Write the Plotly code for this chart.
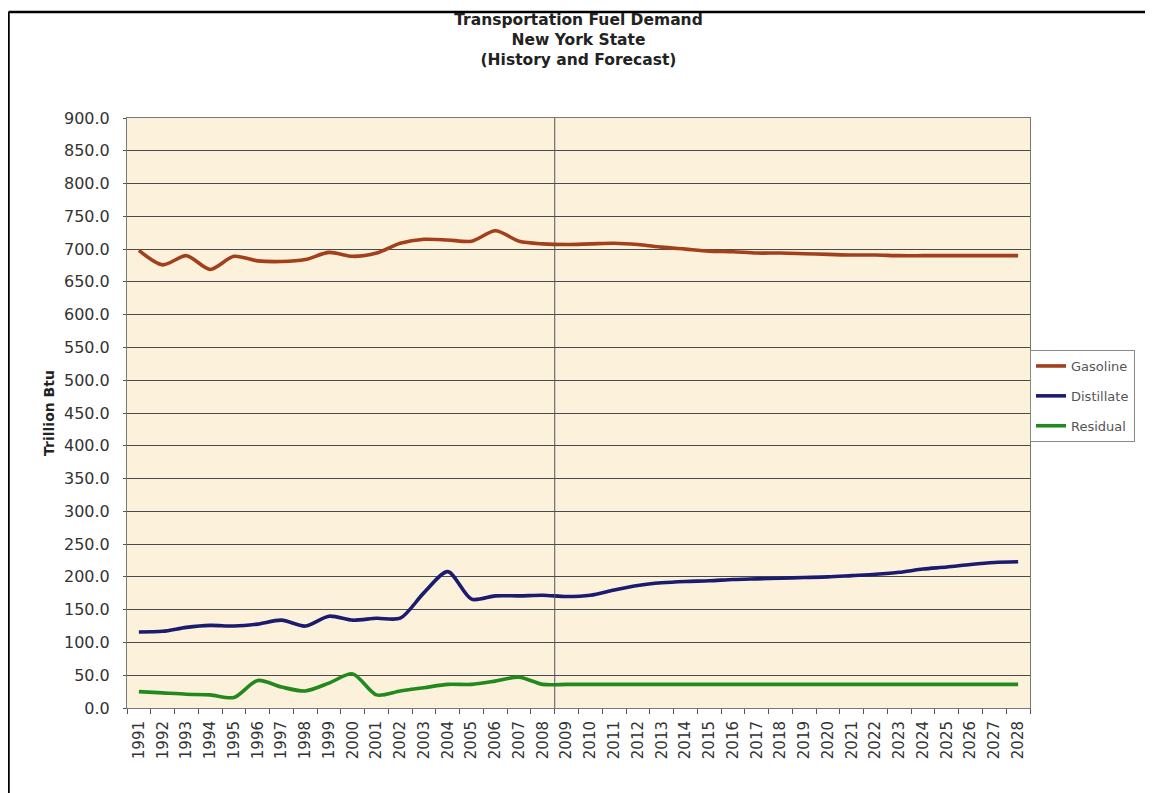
import plotly.graph_objects as go

# ── data ─────────────────────────────────────────────
years = [str(y) for y in range(1991, 2029)]

gasoline = [
    698, 676, 690, 669, 689, 682, 681, 684, 695, 689,
    694, 709, 715, 714, 712, 728, 712, 708, 707, 708,
    709, 707, 703, 700, 697, 696, 694, 694, 693, 692,
    691, 691, 690, 690, 690, 690, 690, 690,
]
distillate = [
    116, 117, 123, 126, 125, 128, 134, 125, 140, 134,
    137, 137, 176, 208, 166, 171, 171, 172, 170, 172,
    180, 187, 191, 193, 194, 196, 197, 198, 199, 200,
    202, 204, 207, 212, 215, 219, 222, 223,
]
residual = [
    25, 23, 21, 20, 16, 42, 32, 26, 38, 52,
    20, 26, 31, 36, 36, 41, 47, 36, 36, 36,
    36, 36, 36, 36, 36, 36, 36, 36, 36, 36,
    36, 36, 36, 36, 36, 36, 36, 36,
]

series = [
    ("Gasoline", gasoline, "#A23F1C"),
    ("Distillate", distillate, "#1B1B6F"),
    ("Residual", residual, "#22891F"),
]

FONT = "DejaVu Sans, Arial, sans-serif"
OFF = 8                              # page body margin
W, H = 1153 - OFF, 793 - OFF
L, R, T, B = 127 - OFF, 1030 - OFF, 118 - OFF, 708 - OFF   # plot area (figure px)

fig = go.Figure()
for name, vals, color in series:
    fig.add_trace(go.Scatter(
        x=years, y=vals, name=name, mode="lines", legendgroup=name,
        line=dict(color=color, width=3.6, shape="spline", smoothing=0.8),
    ))

# forecast divider between 2008 and 2009
fig.add_shape(type="line", xref="x", yref="paper",
              x0=17.5, x1=17.5, y0=0, y1=1,
              line=dict(color="#555555", width=1))

# outer frame (top and left edges visible in the reference)
pw, ph = R - L, B - T
top_y = (B - (12 - OFF)) / ph
left_x = (0.5 - L) / pw
fig.add_shape(type="line", xref="paper", yref="paper",
              x0=left_x, x1=(W + 5 - L) / pw, y0=top_y, y1=top_y,
              line=dict(color="black", width=2.5))
fig.add_shape(type="line", xref="paper", yref="paper",
              x0=left_x, x1=left_x, y0=top_y, y1=(B - H - 5) / ph,
              line=dict(color="black", width=2.5))

fig.update_layout(
    width=W, height=H,
    margin=dict(l=L, r=W - R, t=T, b=H - B),
    paper_bgcolor="white",
    plot_bgcolor="#FCF1DA",
    font=dict(family=FONT, color="#333333"),
    title=dict(
        text="Transportation Fuel Demand<br>New York State<br>(History and Forecast)",
        font=dict(family=FONT, size=15.5, color="#222222", weight="bold"),
        x=(L + R) / 2 / W, xanchor="center",
        y=1 - 17 / H, yanchor="top",
    ),
    xaxis=dict(
        type="category",
        tickson="boundaries",
        ticks="outside", ticklen=5, tickcolor="#555555",
        tickangle=-90, ticklabelstandoff=6,
        tickfont=dict(size=15, color="#333333"),
        showgrid=False,
        showline=True, linecolor="#777777", linewidth=1, mirror=True,
        range=[-0.5, len(years) - 0.5],
    ),
    yaxis=dict(
        title=dict(text="<b>Trillion Btu</b>", font=dict(size=14, color="#222222"),
                   standoff=6),
        range=[0, 900], dtick=50, tickformat=".1f",
        tickfont=dict(size=16, color="#333333"),
        ticks="outside", ticklen=3, tickcolor="#555555", ticklabelstandoff=10,
        showgrid=True, gridcolor="#4a4a4a", gridwidth=1,
        showline=True, linecolor="#777777", linewidth=1, mirror=True,
        zeroline=False,
    ),
    legend=dict(
        x=1.0, xanchor="left", y=(B - (350 - OFF)) / ph, yanchor="top",
        bgcolor="white", bordercolor="#888888", borderwidth=1,
        font=dict(size=13, color="#555555"),
        tracegroupgap=10, itemwidth=30,
    ),
    showlegend=True,
)

fig.write_html("out.html")
